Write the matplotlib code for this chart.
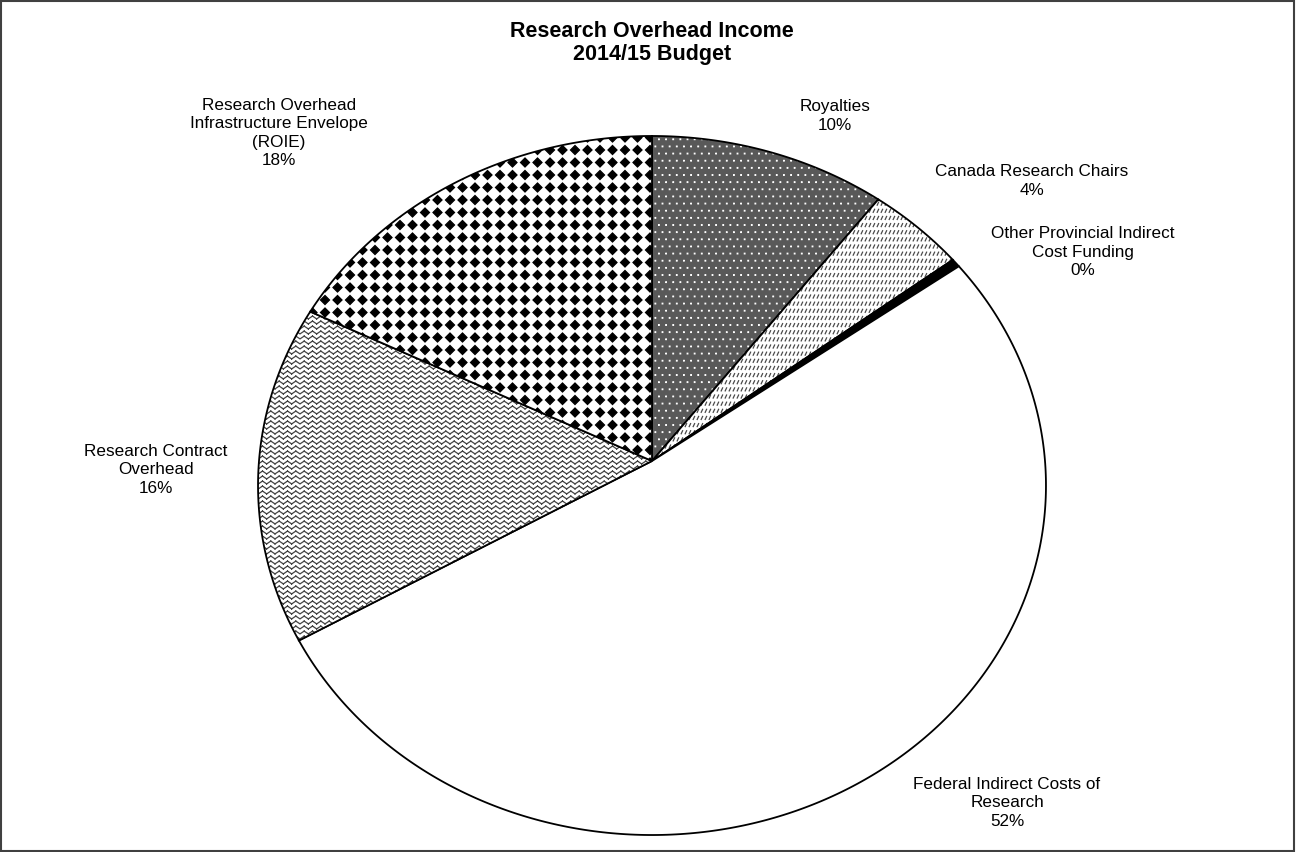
import numpy as np
import matplotlib
matplotlib.use('Agg')
import matplotlib.pyplot as plt
import matplotlib.hatch as mhatch
from matplotlib.path import Path
from matplotlib.patches import Polygon, Rectangle

# ---- data ----
categories = ['Royalties', 'Canada Research Chairs', 'Other Provincial Indirect\nCost Funding',
              'Federal Indirect Costs of\nResearch', 'Research Contract\nOverhead',
              'Research Overhead\nInfrastructure Envelope\n(ROIE)']
shares = [10.4, 4.3, 0.4, 51.6, 15.6, 17.7]
pct_labels = ['10%', '4%', '0%', '52%', '16%', '18%']

face_cols = ['#595959', 'white', 'black', 'white', 'white', 'white']
hatch_cols = ['white', '#4a4a4a', 'black', 'white', '#444444', 'black']
hatches = ['p', 'g', None, None, '~~~~', 'd']

# label anchor points (pixels, centre of text block)
label_xy = [(835, 116), (1032, 181), (1083, 252), (1007, 803), (156, 470), (279, 133)]

W, H = 1297, 853
CX, CY = 652, 462
RX, RY, K = 393, 347.8, 0.0701   # flat 3d pie seen in perspective


# ---- custom hatches (excel-like fill patterns) ----
class WaveHatch(mhatch.HatchPatternBase):
    def __init__(self, hatch, density):
        self.rows = hatch.count('~') * 5
        self.segs = 24
        self.num_vertices = self.rows * self.segs * 2

    def set_vertices_and_codes(self, vertices, codes):
        amp = 0.014
        xs = np.linspace(0, 1, self.segs + 1)
        ys = np.where(np.arange(self.segs + 1) % 2 == 0, -amp, amp)
        k = 0
        for r in range(self.rows):
            y0 = (r + 0.5) / self.rows
            for s in range(self.segs):
                vertices[k] = (xs[s], y0 + ys[s])
                vertices[k + 1] = (xs[s + 1], y0 + ys[s + 1])
                codes[k] = Path.MOVETO
                codes[k + 1] = Path.LINETO
                k += 2


class DiamondHatch(mhatch.HatchPatternBase):
    def __init__(self, hatch, density):
        self.n = hatch.count('d') * 8
        self.num_vertices = (self.n + 1) ** 2 * 5 if self.n else 0

    def set_vertices_and_codes(self, vertices, codes):
        p = 1.0 / self.n
        h = 0.36 * p
        shape = np.array([[0, -h], [h, 0], [0, h], [-h, 0], [0, -h]])
        k = 0
        for i in range(self.n + 1):
            for j in range(self.n + 1):
                vertices[k:k + 5] = shape + [i * p, j * p]
                codes[k:k + 5] = [Path.MOVETO, Path.LINETO, Path.LINETO, Path.LINETO, Path.CLOSEPOLY]
                k += 5


class DotHatch(mhatch.HatchPatternBase):
    def __init__(self, hatch, density):
        self.n = hatch.count('p') * 14
        self.num_vertices = self.n * self.n * 5 if self.n else 0

    def set_vertices_and_codes(self, vertices, codes):
        p = 1.0 / self.n
        h = 0.003
        shape = np.array([[-h, -h], [h, -h], [h, h], [-h, h], [-h, -h]])
        k = 0
        for i in range(self.n):
            for j in range(self.n):
                off = 0.5 * p if j % 2 else 0.0
                vertices[k:k + 5] = shape + [(i + 0.25) * p + off, (j + 0.5) * p]
                codes[k:k + 5] = [Path.MOVETO, Path.LINETO, Path.LINETO, Path.LINETO, Path.CLOSEPOLY]
                k += 5


class DashHatch(mhatch.HatchPatternBase):
    def __init__(self, hatch, density):
        self.rows = hatch.count('g') * 14
        self.cols = hatch.count('g') * 25
        self.num_vertices = self.rows * self.cols * 2

    def set_vertices_and_codes(self, vertices, codes):
        k = 0
        for r in range(self.rows):
            y = (r + 0.5) / self.rows
            for c in range(self.cols):
                x = (c + 0.3) / self.cols
                vertices[k] = (x, y - 0.016)
                vertices[k + 1] = (x + 0.014, y + 0.014)
                codes[k] = Path.MOVETO
                codes[k + 1] = Path.LINETO
                k += 2


mhatch._hatch_types += [WaveHatch, DiamondHatch, DotHatch, DashHatch]
mhatch._validate_hatch_pattern = lambda hatch: None

plt.rcParams['font.family'] = ['Liberation Sans', 'DejaVu Sans']
plt.rcParams['hatch.linewidth'] = 0.9


def project(u, v):
    d = 1 + K * v
    return CX + RX * u / d, CY - RY * v / d


fig = plt.figure(figsize=(W / 100, H / 100), dpi=100)
ax = fig.add_axes([0, 0, 1, 1])

wedges, _ = ax.pie(shares, startangle=90, counterclock=False, radius=1)

for w, fc, hc, ht in zip(wedges, face_cols, hatch_cols, hatches):
    t = np.radians(np.linspace(w.theta1, w.theta2, 300))
    u = np.r_[0, np.cos(t) * w.r, 0]
    v = np.r_[0, np.sin(t) * w.r, 0]
    px, py = project(u, v)
    xy = np.column_stack([px, py])
    w.remove()
    ax.add_patch(Polygon(xy, closed=True, facecolor=fc, edgecolor=hc, lw=0, hatch=ht))
    ax.add_patch(Polygon(xy, closed=True, facecolor='none', edgecolor='black', lw=1.3))

ax.set_aspect('auto')
ax.set_xlim(0, W)
ax.set_ylim(H, 0)
ax.axis('off')

for name, pct, (x, y) in zip(categories, pct_labels, label_xy):
    ax.text(x, y, name + '\n' + pct, ha='center', va='center', fontsize=12.3,
            linespacing=1.28, color='black')

ax.text(652, 43, 'Research Overhead Income\n2014/15 Budget', ha='center', va='center',
        fontsize=15.5, fontweight='bold', linespacing=1.08)

fig.add_artist(Rectangle((0.001, 0.001), 0.997, 0.997, transform=fig.transFigure,
                         fill=False, edgecolor='#404040', lw=1.5))

fig.savefig('out.png', dpi=100)
